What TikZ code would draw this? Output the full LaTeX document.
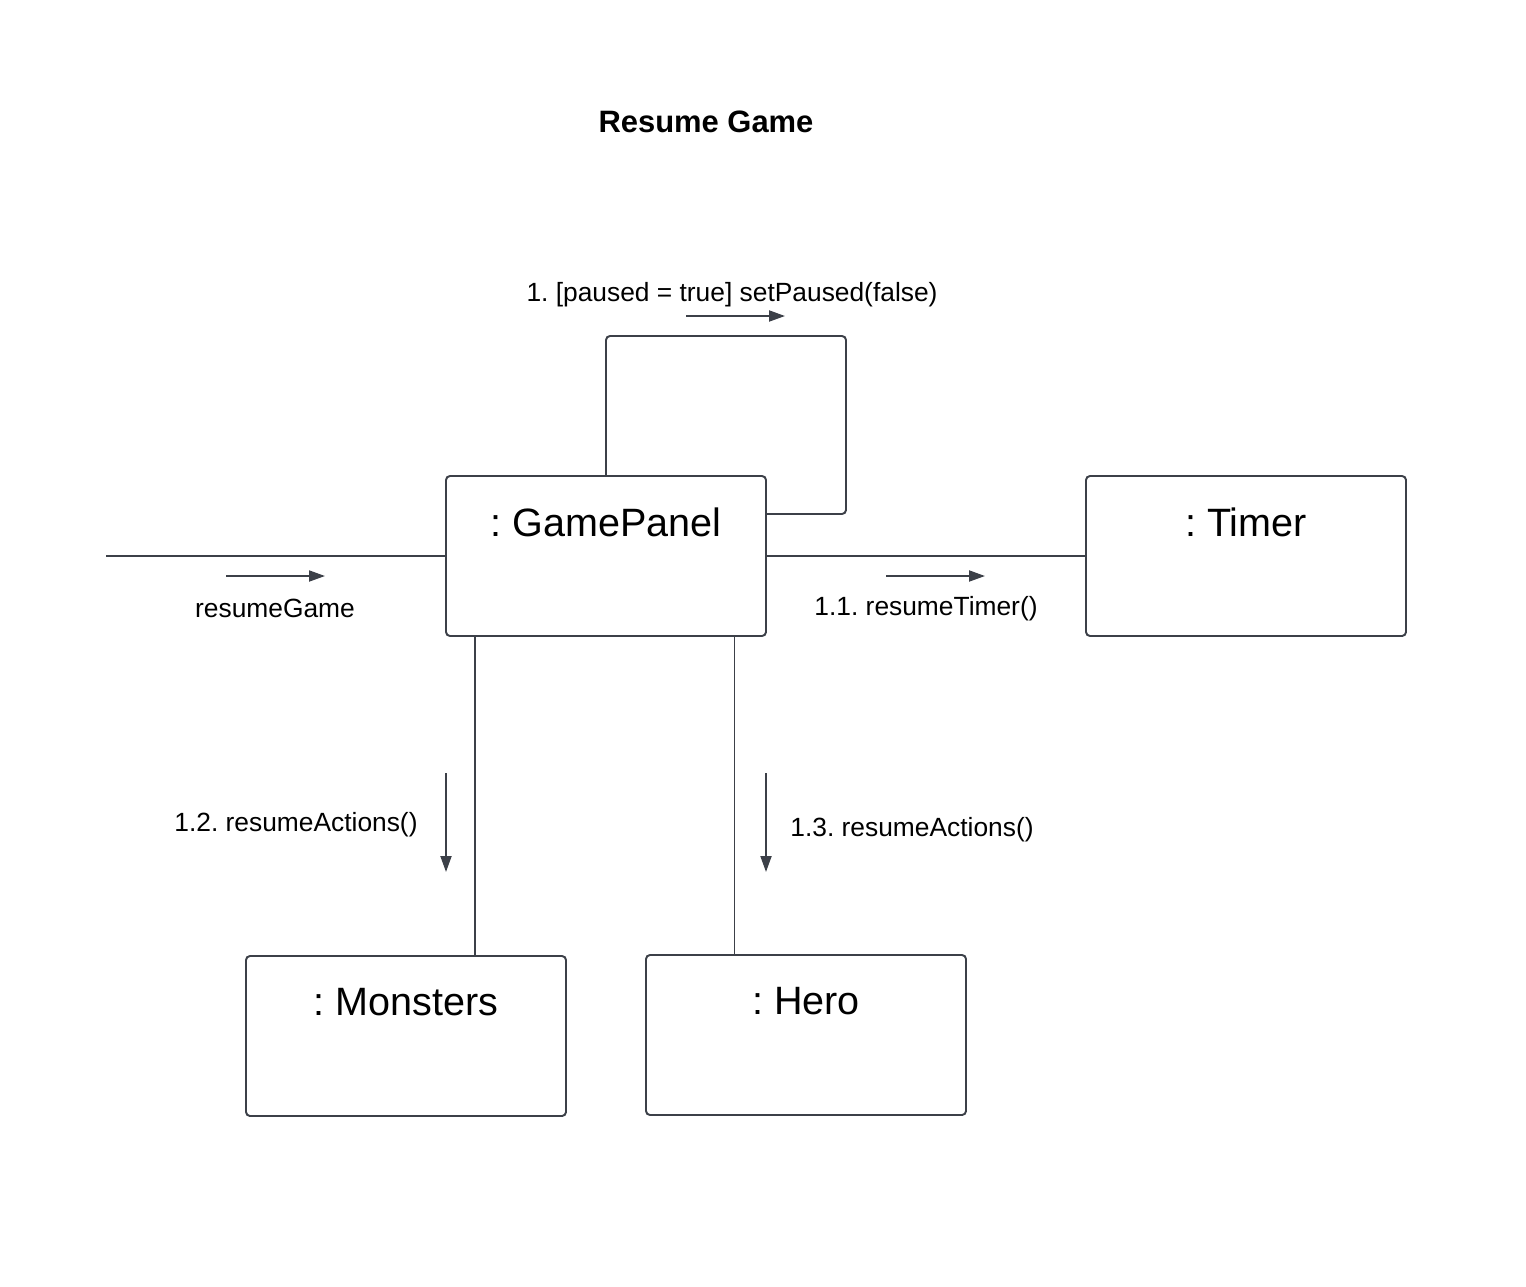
\documentclass[tikz,border=0pt]{standalone}
\usepackage{fontspec}
\setmainfont{Liberation Sans}
\frenchspacing
\usetikzlibrary{arrows.meta,positioning,calc}
\definecolor{linegrey}{RGB}{60,64,72}
\begin{document}
\begin{tikzpicture}[
  obj/.style={draw=linegrey,line width=1.1pt,rounded corners=0.08cm,minimum width=6.4cm,minimum height=3.2cm,inner sep=0pt},
  objname/.style={anchor=center,yshift=-0.95cm,font=\fontsize{22.5}{27}\selectfont},
  link/.style={draw=linegrey,line width=1.1pt},
  msg/.style={-{Triangle[length=3.2mm,width=2.2mm]},draw=linegrey,fill=linegrey,line width=1.1pt},
  msglbl/.style={font=\fontsize{15}{18}\selectfont,inner sep=0pt}]
\useasboundingbox (0,0) rectangle (30.52,-25.72);
\node[font=\bfseries\fontsize{17.6}{21}\selectfont] (title) at (14.12,-2.44) {Resume Game};
% objects
\node[obj,label={[objname]north:{: GamePanel}}] (gp) at (12.12,-11.12) {};
\node[obj,label={[objname]north:{: Timer}}] (timer) at (24.92,-11.12) {};
\node[obj,label={[objname]north:{: Monsters}}] (monsters) at (8.12,-20.72) {};
\node[obj,label={[objname]north:{: Hero}}] (hero) at (16.12,-20.70) {};
\coordinate (actor) at (2.12,-11.12);
% links
\draw[link,line width=1.3pt] (actor) -- (gp.west);
\draw[link] (gp.east) -- (timer.west);
\draw[link,rounded corners=0.08cm] (gp.north) |- (16.92,-6.72) |- ([yshift=0.84cm]gp.east);
\draw[link] ([xshift=0.6cm]gp.south west) -- ([xshift=0.6cm]gp.south west |- monsters.north);
\draw[link,line width=0.5pt] ([xshift=-0.66cm]gp.south east) -- ([xshift=-0.66cm]gp.south east |- hero.north);
% messages
\draw[msg] (4.52,-11.52) -- (6.5,-11.52);
\node[msglbl] (m0) at (5.5,-12.16) {resumeGame};
\draw[msg] (13.72,-6.32) -- (15.7,-6.32);
\node[msglbl] (m1) at (14.64,-5.9) {1. [paused = true] setPaused(false)};
\draw[msg] (17.72,-11.52) -- (19.7,-11.52);
\node[msglbl] (m11) at (18.52,-12.18) {1.1. resumeTimer()};
\draw[msg] (8.92,-15.46) -- (8.92,-17.44);
\node[msglbl] (m12) at (5.92,-16.5) {1.2. resumeActions()};
\draw[msg] (15.32,-15.46) -- (15.32,-17.44);
\node[msglbl] (m13) at (18.24,-16.6) {1.3. resumeActions()};
\end{tikzpicture}
\end{document}
